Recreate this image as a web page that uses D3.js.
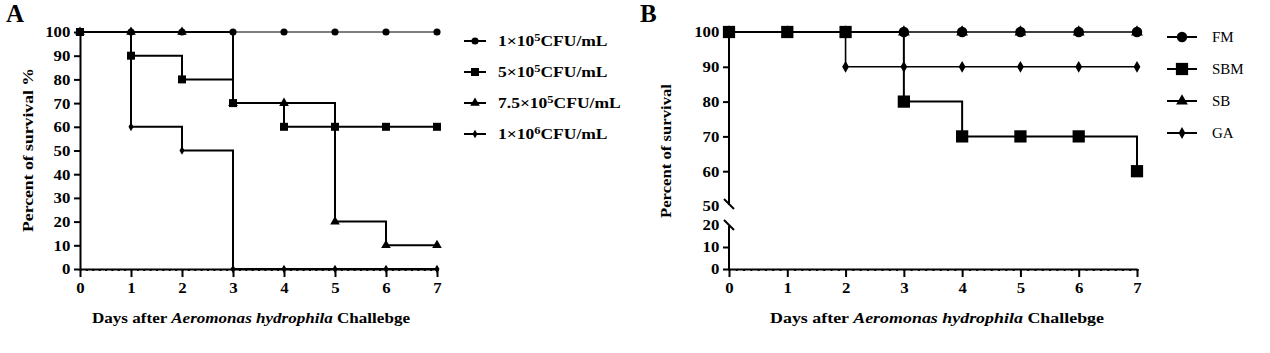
<!DOCTYPE html>
<html>
<head>
<meta charset="utf-8">
<script src="https://d3js.org/d3.v7.min.js"></script>
<style>
  body { margin: 0; background: #fff; }
  .axis path, .axis line { stroke: #000; stroke-width: 2; }
</style>
</head>
<body>
<svg id="fig" width="1270" height="353"></svg>
<script>
// ---- data ----
const days = [0, 1, 2, 3, 4, 5, 6, 7];

const namesA = ["1e5", "5e5", "7.5e5", "1e6"];
const circleA   = [100, 100, 100, 100, 100, 100, 100, 100];
const squareA   = [100, 90, 80, 70, 60, 60, 60, 60];
const triangleA = [100, 100, 100, 70, 70, 20, 10, 10];
const diamondA  = [100, 60, 50, 0, 0, 0, 0, 0];

const namesB = ["FM", "SBM", "SB", "GA"];
const fmB  = [100, 100, 100, 100, 100, 100, 100, 100];
const sbmB = [100, 100, 100, 80, 70, 70, 70, 60];
const sbB  = [100, 100, 100, 100, 100, 100, 100, 100];
const gaB  = [100, 100, 90, 90, 90, 90, 90, 90];

const ticksA = [0, 10, 20, 30, 40, 50, 60, 70, 80, 90, 100];
const ticksB = [0, 10, 20, 50, 60, 70, 80, 90, 100];

const FONT = '"Liberation Serif", "Times New Roman", Times, "DejaVu Serif", serif';
const svg = d3.select("#fig");

function drawPanel(opt) {
  const g = svg.append("g");
  const x = d3.scaleLinear().domain([0, 7]).range(opt.xr);
  const y = opt.y;
  const y0 = y(0);

  // x axis with minor ticks
  const minor = d3.range(0, 7.001, 0.125);
  g.append("g").attr("class", "axis").attr("transform", `translate(0,${y0})`)
    .call(d3.axisBottom(x).tickValues(minor).tickSize(2).tickFormat(""))
    .call(a => a.select(".domain").remove())
    .selectAll("line").attr("stroke-width", 1);
  const xa = g.append("g").attr("class", "axis").attr("transform", `translate(0,${y0})`)
    .call(d3.axisBottom(x).tickValues(days).tickFormat(d3.format("d"))
      .tickSize(8).tickSizeOuter(0).tickPadding(6));
  xa.selectAll(".tick text").attr("transform", "scale(1.2,1)");

  // y axis
  const ya = g.append("g").attr("class", "axis").attr("transform", `translate(${opt.xr[0]},0)`)
    .call(d3.axisLeft(y).tickValues(opt.yticks).tickSize(6).tickSizeOuter(0).tickPadding(2));
  ya.selectAll(".tick text").attr("dy", "0.35em").attr("transform", "scale(1.2,1)");

  if (opt.broken) {
    ya.select(".domain").remove();
    ya.selectAll(".tick").filter(d => d === 20 || d === 50).select("line").remove();
    const x0 = opt.xr[0];
    g.append("line").attr("x1", x0).attr("x2", x0).attr("y1", y(100)).attr("y2", y(50) - 1)
      .attr("stroke", "#000").attr("stroke-width", 2);
    g.append("line").attr("x1", x0).attr("x2", x0).attr("y1", y(20) + 1).attr("y2", y0 + 1)
      .attr("stroke", "#000").attr("stroke-width", 2);
    [y(50) - 1, y(20) + 1].forEach(yy => {
      g.append("line").attr("x1", x0 - 5).attr("x2", x0 + 5).attr("y1", yy - 6).attr("y2", yy + 4)
        .attr("stroke", "#000").attr("stroke-width", 2);
    });
  }
  g.selectAll(".axis text").attr("font-size", 14).attr("font-weight", "bold");

  // series
  const line = d3.line().x((d, i) => x(days[i])).y(d => y(d)).curve(d3.curveStepAfter);
  opt.series.forEach(s => {
    g.append("path").attr("d", line(s.values)).attr("fill", "none")
      .attr("stroke", "#000").attr("stroke-width", s.w);
  });
  opt.series.forEach(s => {
    g.selectAll(null).data(s.values).join("path")
      .attr("transform", (d, i) => `translate(${x(days[i])},${y(d)})`)
      .attr("d", d3.symbol(s.sym, s.size)).attr("fill", "#000");
  });

  // titles
  const xt = g.append("text").attr("font-size", 14).attr("font-weight", "bold")
    .attr("text-anchor", "middle").attr("x", opt.xtitleX).attr("y", 323)
    .attr("textLength", opt.xtitleLen).attr("lengthAdjust", "spacingAndGlyphs");
  xt.append("tspan").text("Days after ");
  xt.append("tspan").attr("font-style", "italic").text("Aeromonas hydrophila");
  xt.append("tspan").text(" Challebge");
  g.append("text").attr("font-size", 14).attr("font-weight", "bold").attr("text-anchor", "middle")
    .attr("transform", `translate(${opt.ytitleX},${opt.ytitleY}) rotate(-90)`)
    .attr("textLength", opt.ytitleLen).attr("lengthAdjust", "spacingAndGlyphs")
    .text(opt.ytitle);
  g.append("text").attr("x", opt.letterX).attr("y", 22)
    .attr("font-size", 25).attr("font-weight", "bold").text(opt.letter);

  // legend
  const leg = g.append("g");
  opt.series.slice().sort((a, b) => a.order - b.order).forEach((s, i) => {
    const ly = opt.legY + i * opt.legStep;
    leg.append("line").attr("x1", opt.legX).attr("x2", opt.legX + opt.legW)
      .attr("y1", ly).attr("y2", ly).attr("stroke", "#000").attr("stroke-width", 2);
    leg.append("path").attr("transform", `translate(${opt.legX + opt.legW / 2},${ly})`)
      .attr("d", d3.symbol(s.sym, s.size)).attr("fill", "#000");
    const t = leg.append("text").attr("x", opt.legTextX).attr("y", ly + 5)
      .style("font-family", FONT);
    opt.legendText(t, s.name);
    if (opt.legStretch) {
      const len = t.node().getComputedTextLength();
      t.attr("textLength", len * opt.legStretch).attr("lengthAdjust", "spacingAndGlyphs");
    }
  });
}

// Panel A
drawPanel({
  xr: [80, 437],
  y: d3.scaleLinear().domain([0, 100]).range([269, 32]),
  yticks: ticksA,
  series: [
    { name: namesA[0], values: circleA, sym: d3.symbolCircle, size: 40, w: 1.2, order: 0 },
    { name: namesA[2], values: triangleA, sym: d3.symbolTriangle, size: 40, w: 2, order: 2 },
    { name: namesA[3], values: diamondA, sym: d3.symbolDiamond, size: 22, w: 2, order: 3 },
    { name: namesA[1], values: squareA, sym: d3.symbolSquare, size: 64, w: 2, order: 1 }
  ],
  xtitleX: 251, xtitleLen: 318, ytitleX: 33, ytitleY: 150, ytitleLen: 164,
  ytitle: "Percent of survival %",
  letter: "A", letterX: 6,
  legX: 464, legW: 22, legTextX: 498, legY: 41, legStep: 31, legStretch: 1.25,
  legendText: (t, n) => {
    t.attr("font-size", 14).attr("font-weight", "bold");
    const [m, e] = n.split("e");
    t.append("tspan").text(m + "×10");
    t.append("tspan").attr("font-size", 10).attr("dy", -5).text(e);
    t.append("tspan").attr("dy", 5).text("CFU/mL");
  }
});

// Panel B
drawPanel({
  xr: [729, 1137],
  y: d3.scaleLinear().domain([0, 20, 50, 100]).range([269, 225, 206, 32]),
  yticks: ticksB,
  broken: true,
  series: [
    { name: namesB[0], values: fmB, sym: d3.symbolCircle, size: 85, w: 1.2, order: 0 },
    { name: namesB[2], values: sbB, sym: d3.symbolTriangle, size: 60, w: 1.2, order: 2 },
    { name: namesB[3], values: gaB, sym: d3.symbolDiamond, size: 40, w: 1.6, order: 3 },
    { name: namesB[1], values: sbmB, sym: d3.symbolSquare, size: 150, w: 2, order: 1 }
  ],
  xtitleX: 937, xtitleLen: 334, ytitleX: 671, ytitleY: 151, ytitleLen: 134,
  ytitle: "Percent of survival",
  letter: "B", letterX: 640,
  legX: 1167, legW: 30, legTextX: 1212, legY: 37, legStep: 32,
  legendText: (t, n) => t.attr("font-size", 15).text(n)
});

svg.selectAll("text").style("font-family", FONT).style("fill", "#000");
</script>
</body>
</html>
